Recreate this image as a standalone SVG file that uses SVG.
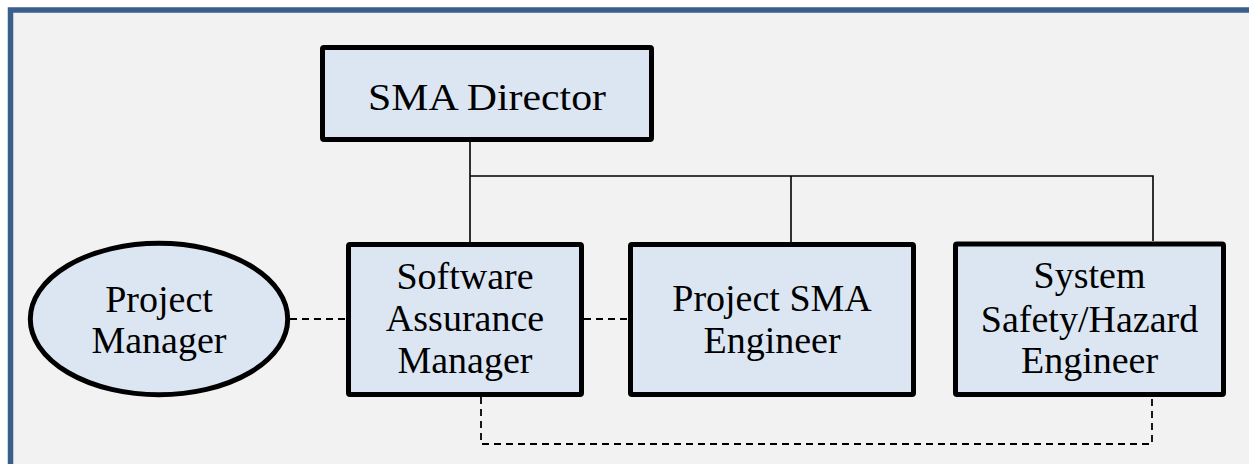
<svg xmlns="http://www.w3.org/2000/svg" width="1249" height="464" viewBox="0 0 1249 464">
  <style>
    .box { fill: #DCE6F2; stroke: #000; stroke-width: 5; }
    .lbl { font-family: "Liberation Serif", "Times New Roman", serif; font-size: 38px; fill: #000; text-anchor: middle; }
    .solid { fill: none; stroke: #000; stroke-width: 1.6; }
    .dash { fill: none; stroke: #000; stroke-width: 1.8; stroke-dasharray: 7 5; }
  </style>
  <rect x="0" y="0" width="1249" height="464" fill="#FFFFFF"/>
  <rect id="frame" x="10.5" y="10" width="1300" height="500" fill="#F2F2F2" stroke="#3B5F8C" stroke-width="5.5"/>

  <g id="connectors">
    <path class="solid" d="M470 142 V242 M470 176 H1153 V241 M791 176 V242"/>
    <path class="dash" d="M290 319 H346"/>
    <path class="dash" d="M584 319 H628"/>
    <path class="dash" d="M481 397 V444 H1152 V397"/>
  </g>

  <g id="sma-director">
    <rect class="box" x="322.5" y="47.5" width="329" height="92" rx="1.5"/>
    <text class="lbl" x="487" y="110" font-size="44" textLength="238" lengthAdjust="spacingAndGlyphs">SMA Director</text>
  </g>

  <g id="project-manager">
    <ellipse class="box" cx="159" cy="319" rx="128.7" ry="75.7" stroke-width="4.5"/>
    <text class="lbl" x="159" y="311.7">Project</text>
    <text class="lbl" x="159" y="353">Manager</text>
  </g>

  <g id="software-assurance-manager">
    <rect class="box" x="348.5" y="244.5" width="233" height="150" rx="1.5"/>
    <text class="lbl" x="465" y="289.3">Software</text>
    <text class="lbl" x="465" y="331">Assurance</text>
    <text class="lbl" x="465" y="373.3">Manager</text>
  </g>

  <g id="project-sma-engineer">
    <rect class="box" x="630.5" y="244.5" width="283" height="150" rx="1.5"/>
    <text class="lbl" x="772" y="310.7">Project SMA</text>
    <text class="lbl" x="772" y="353.3">Engineer</text>
  </g>

  <g id="system-safety-engineer">
    <rect class="box" x="955.5" y="244" width="268" height="150.5" rx="1.5"/>
    <text class="lbl" x="1089.5" y="288.3">System</text>
    <text class="lbl" x="1089.5" y="331.7">Safety/Hazard</text>
    <text class="lbl" x="1089.5" y="372.7">Engineer</text>
  </g>
</svg>
